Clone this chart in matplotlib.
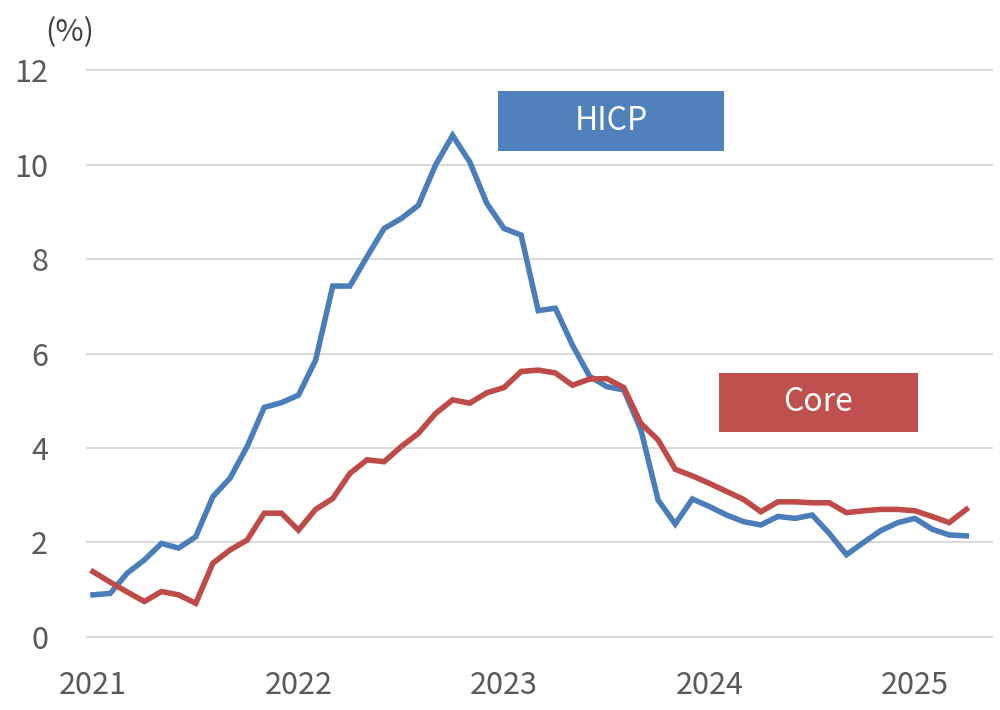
# Euro area HICP vs core inflation, y/y %
import numpy as np
import matplotlib.pyplot as plt
from matplotlib.patches import Rectangle

plt.rcParams['font.family'] = ['Noto Sans CJK JP', 'DejaVu Sans']

# monthly, Jan 2021 .. Apr 2025
months = np.arange(52)
hicp = [0.89, 0.92, 1.35, 1.63, 1.98, 1.88, 2.12, 2.97, 3.36, 4.03, 4.86, 4.96,
        5.12, 5.86, 7.43, 7.43, 8.05, 8.65, 8.86, 9.14, 9.99, 10.62, 10.06, 9.18,
        8.65, 8.51, 6.91, 6.96, 6.18, 5.52, 5.30, 5.23, 4.38, 2.90, 2.39, 2.92,
        2.76, 2.58, 2.44, 2.37, 2.55, 2.51, 2.58, 2.19, 1.74, 2.00, 2.25, 2.42,
        2.51, 2.28, 2.16, 2.14]
core = [1.38, 1.16, 0.95, 0.75, 0.96, 0.89, 0.71, 1.56, 1.84, 2.05, 2.62, 2.62,
        2.26, 2.70, 2.93, 3.46, 3.75, 3.71, 4.03, 4.31, 4.73, 5.02, 4.95, 5.17,
        5.28, 5.62, 5.65, 5.59, 5.33, 5.46, 5.47, 5.28, 4.52, 4.17, 3.55, 3.41,
        3.25, 3.08, 2.91, 2.65, 2.86, 2.86, 2.84, 2.84, 2.63, 2.67, 2.70, 2.70,
        2.67, 2.55, 2.42, 2.70]
year_ticks = [0, 12, 24, 36, 48]
year_labels = ['2021', '2022', '2023', '2024', '2025']
y_ticks = [0, 2, 4, 6, 8, 10, 12]

blue = '#4A7EBB'
red = '#BE4B48'
grey = '#595959'

fig = plt.figure(figsize=(10, 7.1), dpi=100)
ax = fig.add_axes([0.087, 0.103, 0.905, 0.798])

ax.plot(months, hicp, color=blue, lw=4.0, solid_joinstyle='miter', zorder=3)
ax.plot(months, core, color=red, lw=4.0, solid_joinstyle='miter', zorder=3)

ax.set_xlim(-0.35, 52.5)
ax.set_ylim(0, 12)
ax.set_yticks(y_ticks)
ax.set_xticks(year_ticks)
ax.set_xticklabels(year_labels)
ax.grid(axis='y', color='#D9D9D9', lw=1.4, clip_on=False)
ax.set_axisbelow(True)
for s in ax.spines.values():
    s.set_visible(False)
ax.tick_params(length=0, labelsize=22, colors=grey)
ax.tick_params(axis='x', pad=24)
ax.tick_params(axis='y', pad=28)
for lab in ax.get_yticklabels():
    lab.set_horizontalalignment('right')

fig.text(0.07, 0.954, '(%)', fontsize=22, color='#404040', ha='center', va='center')

# series labels
def label_box(x0, y0, w, h, txt, col):
    ax.add_patch(Rectangle((x0, y0), w, h, transform=ax.transAxes,
                           facecolor=col, edgecolor='none', zorder=4))
    ax.text(x0 + w / 2, y0 + h / 2, txt, transform=ax.transAxes, color='white',
            fontsize=23, ha='center', va='center', zorder=5)

label_box(0.454, 0.857, 0.250, 0.106, 'HICP', '#4F81BD')
label_box(0.698, 0.362, 0.220, 0.104, 'Core', '#C0504D')

fig.savefig('out.png', dpi=100)
